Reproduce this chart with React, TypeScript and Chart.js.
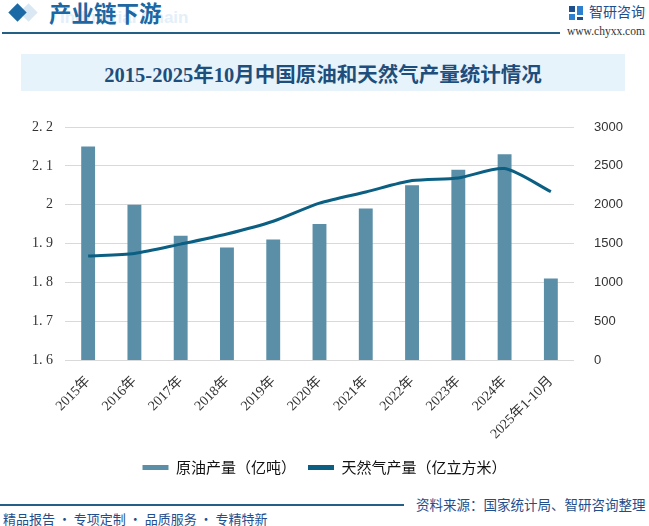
import React, { useEffect, useRef } from "react";
import { Chart, registerables } from "chart.js";

Chart.register(...registerables);

const categories = [
  "2015年", "2016年", "2017年", "2018年", "2019年", "2020年",
  "2021年", "2022年", "2023年", "2024年", "2025年1-10月",
];
const oilOutput = [2.15, 2.0, 1.92, 1.89, 1.91, 1.95, 1.99, 2.05, 2.09, 2.13, 1.81];
const gasOutput = [1340, 1372, 1492, 1622, 1786, 2020, 2163, 2310, 2344, 2465, 2167];
const leftTicks = [1.6, 1.7, 1.8, 1.9, 2.0, 2.1, 2.2];
const rightTicks = [0, 500, 1000, 1500, 2000, 2500, 3000];

const BAR = "#5b8fa7";
const LINE = "#0a5f82";
const NAVY = "#1d4e7c";

function ChartBox() {
  const ref = useRef<HTMLCanvasElement | null>(null);
  useEffect(() => {
    if (!ref.current) return;
    const chart = new Chart(ref.current, {
      data: {
        labels: categories,
        datasets: [
          {
            type: "bar",
            label: "原油产量（亿吨）",
            data: oilOutput,
            backgroundColor: BAR,
            borderWidth: 0,
            yAxisID: "y",
            categoryPercentage: 1,
            barPercentage: 0.3,
            order: 2,
          },
          {
            type: "line",
            label: "天然气产量（亿立方米）",
            data: gasOutput,
            borderColor: LINE,
            backgroundColor: LINE,
            borderWidth: 3,
            pointRadius: 0,
            tension: 0.25,
            yAxisID: "y1",
            order: 1,
          },
        ],
      } as any,
      options: {
        animation: false,
        responsive: false,
        maintainAspectRatio: false,
        layout: { padding: { top: 27, bottom: 0, left: 0, right: 0 } },
        plugins: {
          tooltip: { enabled: false },
          legend: {
            position: "bottom",
            labels: {
              boxWidth: 26,
              boxHeight: 5,
              padding: 12,
              color: "#111",
              font: { family: "'Noto Sans CJK SC', 'Noto Sans', sans-serif", size: 15 },
              generateLabels: (c: any) =>
                c.data.datasets.map((d: any, i: number) => ({
                  text: d.label,
                  fillStyle: d.type === "bar" ? BAR : LINE,
                  strokeStyle: d.type === "bar" ? BAR : LINE,
                  lineWidth: 0,
                  hidden: false,
                  datasetIndex: i,
                  fontColor: "#111",
                })),
            },
          },
        },
        scales: {
          x: {
            grid: { display: false },
            border: { display: false },
            ticks: {
              minRotation: 45,
              maxRotation: 45,
              autoSkip: false,
              padding: 5,
              color: "#333",
              font: { family: "'Liberation Serif', 'Noto Sans CJK SC', serif", size: 14 },
            },
            afterFit: (s: any) => { s.height = 88; },
          },
          y: {
            position: "left",
            min: 1.6,
            max: 2.2,
            afterBuildTicks: (s: any) => { s.ticks = leftTicks.map((v) => ({ value: v })); },
            grid: { color: "#d9d9d9", lineWidth: 1, drawTicks: false },
            border: { display: false },
            ticks: {
              padding: 12,
              color: "#333",
              font: { family: "'Liberation Serif', serif", size: 14 },
              callback: (v: any) => String(Math.round(Number(v) * 10) / 10).replace(".", ". "),
            },
            afterFit: (s: any) => { s.width = 65; },
          },
          y1: {
            position: "right",
            min: 0,
            max: 3000,
            afterBuildTicks: (s: any) => { s.ticks = rightTicks.map((v) => ({ value: v })); },
            grid: { display: false },
            border: { display: false },
            ticks: {
              padding: 12,
              color: "#333",
              font: { family: "'Liberation Sans', sans-serif", size: 13 },
              callback: (v: any) => String(v),
            },
            afterFit: (s: any) => { s.width = 75; },
          },
        },
      } as any,
    });
    return () => chart.destroy();
  }, []);
  return <canvas ref={ref} width={649} height={385} style={{ width: 649, height: 385, display: "block" }} />;
}

export default function App() {
  const abs = (s: React.CSSProperties): React.CSSProperties => ({ position: "absolute", ...s });
  const cjk = "'Noto Sans CJK SC', 'Noto Sans', sans-serif";
  return (
    <div style={abs({ left: 0, top: 0, width: 649, height: 526, background: "#fff", overflow: "hidden" })}>
      {/* header */}
      <div style={abs({ left: 22, top: 6, width: 13, height: 13, background: "#d9e8f3", transform: "rotate(45deg)" })} />
      <div style={abs({ left: 11, top: 6, width: 13, height: 13, background: "#1b6aa5", transform: "rotate(45deg)" })} />
      <div style={abs({ left: 60, top: 8, fontFamily: "'Liberation Sans', sans-serif", fontWeight: 700, fontSize: 17, color: "#e3eff9", whiteSpace: "nowrap" })}>Industrial Chain</div>
      <div style={abs({ left: 49, top: -4, fontFamily: cjk, fontWeight: 700, fontSize: 22.5, color: "#1d67a2", whiteSpace: "nowrap" })}>产业链下游</div>
      <div style={abs({ left: 2, top: 32, width: 558, height: 2, background: "#245f86" })} />
      {/* logo */}
      <div style={abs({ left: 569, top: 6, width: 14, height: 14 })}>
        <div style={abs({ left: 0, top: 0, width: 6, height: 6, background: "#1f4e8c" })} />
        <div style={abs({ left: 8, top: 0, width: 6, height: 9, background: "#2d7fd0" })} />
        <div style={abs({ left: 0, top: 8, width: 6, height: 6, background: "#2d7fd0" })} />
        <div style={abs({ left: 8, top: 11, width: 6, height: 3, background: "#1f4e8c" })} />
      </div>
      <div style={abs({ left: 589, top: 1, fontFamily: cjk, fontSize: 14, color: "#1f4e8c", whiteSpace: "nowrap" })}>智研咨询</div>
      <div style={abs({ left: 567, top: 25, fontFamily: "'Liberation Serif', serif", fontSize: 11.5, color: "#333", whiteSpace: "nowrap" })}>www.chyxx.com</div>
      {/* title band */}
      <div style={abs({ left: 21, top: 54, width: 604, height: 37, background: "#e7f3fb" })} />
      <div style={abs({ left: 21, top: 54, width: 604, height: 37, display: "flex", alignItems: "center", justifyContent: "center", fontFamily: "'Liberation Serif', 'Noto Sans CJK SC', serif", fontWeight: 700, fontSize: 20.5, color: NAVY, whiteSpace: "nowrap" })}>
        2015-2025年10月中国原油和天然气产量统计情况
      </div>
      {/* chart */}
      <div style={abs({ left: 0, top: 100, width: 649, height: 385 })}>
        <ChartBox />
      </div>
      {/* footer */}
      <div style={abs({ left: 0, top: 504, width: 404, height: 2, background: "#245f86" })} />
      <div style={abs({ left: 416, top: 494, fontFamily: cjk, fontSize: 13.5, color: "#1f4e8c", whiteSpace: "nowrap" })}>资料来源：国家统计局、智研咨询整理</div>
      <div style={abs({ left: 3, top: 509, fontFamily: cjk, fontSize: 13, color: "#1f4e8c", whiteSpace: "nowrap" })}>精品报告 · 专项定制 · 品质服务 · 专精特新</div>
    </div>
  );
}
